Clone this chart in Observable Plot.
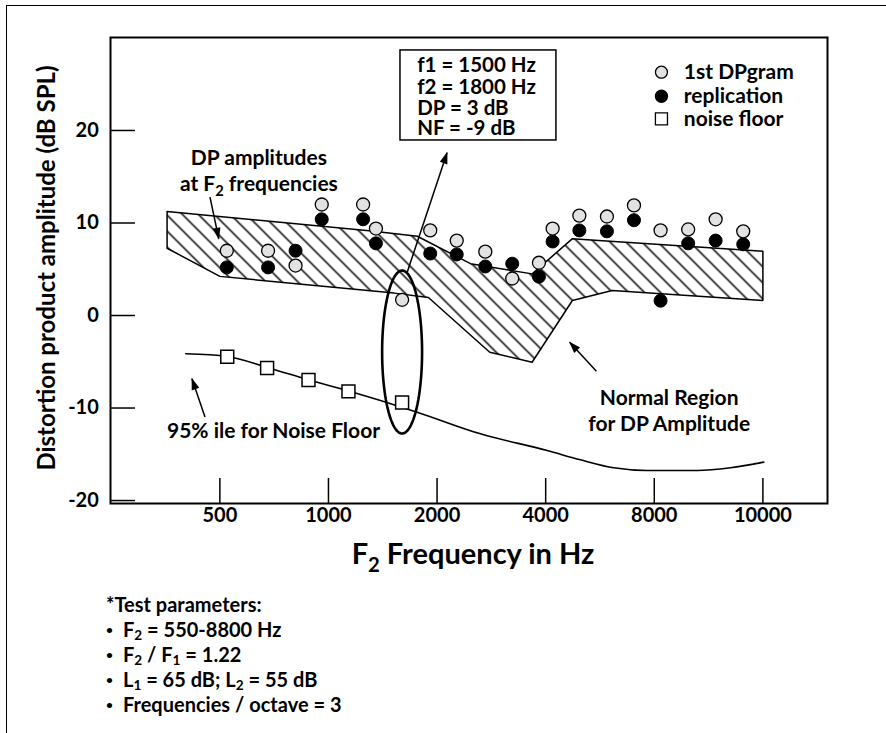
<!DOCTYPE html>
<html><head><meta charset="utf-8">
<script src="https://cdn.jsdelivr.net/npm/d3@7"></script>
<script src="https://cdn.jsdelivr.net/npm/@observablehq/plot@0.6"></script>
<style>
html,body{margin:0;padding:0;background:#fff;overflow:hidden;}
body{width:886px;height:733px;position:relative;font-family:Lato,"Open Sans",sans-serif;font-weight:700;color:#000;}
#border{position:absolute;left:6px;top:5px;width:1000px;height:1000px;border-left:1.5px solid #000;border-top:1.5px solid #000;z-index:2;pointer-events:none;}
#chart{position:absolute;left:0;top:0;z-index:1;}
#params{position:absolute;left:106px;top:592px;font-size:20px;line-height:25px;}
#params div{height:25px;overflow:visible;}
#params .b{display:inline-block;width:17px;font-size:12px;vertical-align:3px;}
#params sub{font-size:68%;vertical-align:-0.22em;line-height:0;}
</style></head><body>
<div id="chart"></div>
<div id="border"></div>
<div id="params"></div>
<script>
// ---- axis ticks ----
const xTickPos = [0, 1, 2, 3, 4, 5];
const xTickLabels = ["500", "1000", "2000", "4000", "8000", "10000"];
const yTicks = [-20, -10, 0, 10, 20];

// ---- DP data (x = position in octaves above 500 Hz on the chart's axis) ----
const octavePos   = [0.064, 0.444, 0.697, 0.938, 1.319, 1.437, 1.678, 1.937, 2.181, 2.444, 2.692, 2.938, 3.064, 3.310, 3.564, 3.813, 4.058, 4.312, 4.565, 4.819];
const firstDP     = [7.0, 7.0, 5.4, 12.0, 12.0, 9.4, 1.7, 9.2, 8.1, 6.9, 4.0, 5.7, 9.4, 10.8, 10.7, 11.9, 9.2, 9.3, 10.4, 9.1];
const replication = [5.2, 5.2, 7.0, 10.4, 10.4, 7.8, null, 6.7, 6.6, 5.3, 5.6, 4.2, 8.0, 9.2, 9.1, 10.3, 1.6, 7.8, 8.1, 7.7];

// ---- noise floor ----
const noisePos   = [0.068, 0.435, 0.816, 1.184, 1.678];
const noiseFloor = [-4.45, -5.67, -6.97, -8.2, -9.4];

// ---- 95th percentile noise floor curve ----
const nf95Pos = [-0.314, 0.068, 0.442, 0.813, 1.187, 1.479, 1.817, 2.4, 3.014, 3.32, 3.627, 3.935, 4.395, 4.702, 5.008];
const nf95    = [-4.14, -4.43, -5.64, -6.94, -8.16, -9.19, -10.45, -12.79, -14.59, -15.6, -16.46, -16.75, -16.75, -16.46, -15.85];

// ---- normal region outline ----
const normalPos = [-0.486, 1.374, 1.818, 2.308, 2.875, 3.244, 5.0, 5.0, 3.612, 3.246, 2.875, 2.485, 1.92, 1.606, 0, -0.486];
const normalDb  = [11.24, 9.15, 8.57, 5.6, 4.5, 8.29, 6.95, 1.62, 2.7, 1.62, -5.05, -3.97, 1.95, 2.42, 4.23, 7.27];

// ---- legend ----
const legendLabels = ["1st DPgram", "replication", "noise floor"];
const legendY = [26.3, 23.7, 21.25];

// ---- annotations ----
const boxLines = ["f1 = 1500 Hz", "f2 = 1800 Hz", "DP = 3 dB", "NF = -9 dB"];
const boxLineY = [27.03, 24.68, 22.38, 20.22];
const noteTexts = ["DP amplitudes", "at F₂ frequencies", "95% ile for Noise Floor", "Normal Region", "for DP Amplitude"];
const noteX = [0.359, 0.359, 0.494, 4.137, 4.137];
const noteY = [17.05, 14.24, -12.54, -8.97, -11.71];
const arrowFrom = [[-0.091, 12.8], [1.725, 4.68], [-0.137, -10.98], [3.467, -6.02]];
const arrowTo   = [[-0.010, 8.3], [2.092, 17.6], [-0.257, -6.83], [3.221, -2.88]];
const paramLines = ["*Test parameters:", "F<sub>2</sub> = 550-8800 Hz", "F<sub>2</sub> / F<sub>1</sub> = 1.22", "L<sub>1</sub> = 65 dB; L<sub>2</sub> = 55 dB", "Frequencies / octave = 3"];

// ---- build tables ----
const dps = octavePos.map((x, i) => ({x, first: firstDP[i], rep: replication[i]}));
const noise = noisePos.map((x, i) => ({x, y: noiseFloor[i]}));
const curve95 = nf95Pos.map((x, i) => ({x, y: nf95[i]}));
const region = normalPos.map((x, i) => ({x, y: normalDb[i]}));
const legend = legendLabels.map((label, i) => ({label, y: legendY[i], i}));
const notes = noteTexts.map((text, i) => ({text, x: noteX[i], y: noteY[i]}));
const arrows = arrowFrom.map((f, i) => ({x1: f[0], y1: f[1], x2: arrowTo[i][0], y2: arrowTo[i][1]}));
const ell = {cx: 1.678, cy: -3.95, rx: 0.184, ry: 8.81};
const ellipsePts = d3.range(0, 361, 4).map(a => ({x: ell.cx + ell.rx * Math.cos(a * Math.PI / 180), y: ell.cy + ell.ry * Math.sin(a * Math.PI / 180)}));

const W = 886, H = 590;
const mL = 110, mT = 37, mR = 59, mB = H - 503;
const plotW = W - mL - mR, plotH = H - mT - mB;
const legendDotX = 4.066, legendTextX = 4.272;
const boxX1 = 1.663, boxX2 = 3.099, boxY1 = 28.65, boxY2 = 18.92, boxTextX = 1.817;

const svg = Plot.plot({
  width: W, height: H,
  marginLeft: mL, marginTop: mT, marginRight: mR, marginBottom: mB,
  x: {domain: [-1.007, 5.595], axis: null},
  y: {domain: [-20.32, 30.05], axis: null},
  style: {fontFamily: "Lato, 'Open Sans', sans-serif", fontWeight: 700, background: "white", color: "black"},
  marks: [
    Plot.line(region, {x: "x", y: "y", curve: "linear-closed", fill: "url(#hatch)", stroke: "#000", strokeWidth: 1.5}),
    Plot.line(curve95, {x: "x", y: "y", curve: "monotone-x", stroke: "#000", strokeWidth: 1.6}),
    Plot.dot(noise, {x: "x", y: "y", symbol: "square", r: 7.3, fill: "white", stroke: "#000", strokeWidth: 1.5}),
    Plot.dot(dps.filter(d => d.rep != null), {x: "x", y: "rep", r: 6.5, fill: "#000", stroke: "#000", strokeWidth: 1}),
    Plot.dot(dps, {x: "x", y: "first", r: 6.5, fill: "#e2e2e2", stroke: "#000", strokeWidth: 1.3}),
    Plot.line(ellipsePts, {x: "x", y: "y", stroke: "#000", strokeWidth: 2.6}),
    Plot.link(arrows, {x1: "x1", y1: "y1", x2: "x2", y2: "y2", stroke: "#000", strokeWidth: 1.5, markerEnd: "arrow"}),
    Plot.text(notes, {x: "x", y: "y", text: "text", fontSize: 21, fill: "#000"}),
    // annotation box
    Plot.rect([{}], {x1: boxX1, x2: boxX2, y1: boxY1, y2: boxY2, fill: "white", stroke: "#000", strokeWidth: 1.5}),
    Plot.text(boxLines, {x: boxTextX, y: (d, i) => boxLineY[i], text: d => d, textAnchor: "start", fontSize: 20.5, fill: "#000"}),
    // legend
    Plot.dot(legend.filter(d => d.i < 2), {x: legendDotX, y: "y", r: 6, fill: d => d.i === 0 ? "#e2e2e2" : "#000", stroke: "#000", strokeWidth: 1.3}),
    Plot.dot(legend.filter(d => d.i === 2), {x: legendDotX, y: "y", symbol: "square", r: 6.8, fill: "white", stroke: "#000", strokeWidth: 1.3}),
    Plot.text(legend, {x: legendTextX, y: "y", text: "label", textAnchor: "start", fontSize: 21, fill: "#000"}),
    // ticks (inward)
    Plot.tickY(yTicks, {y: d => d, insetRight: plotW - 25, stroke: "#000", strokeWidth: 1.5}),
    Plot.tickX(xTickPos, {x: d => d, insetTop: plotH - 25, stroke: "#000", strokeWidth: 1.5}),
    Plot.text(yTicks, {y: d => d, text: d => String(d), frameAnchor: "left", textAnchor: "end", dx: -11.7, fontSize: 20, fill: "#000"}),
    Plot.text(xTickPos, {x: d => d, text: (d, i) => xTickLabels[i], frameAnchor: "bottom", dy: 18, fontSize: 20, fill: "#000"}),
    Plot.text(["F₂ Frequency in Hz"], {text: d => d, frameAnchor: "bottom", textAnchor: "middle", dx: 4, dy: 60, fontSize: 29, fill: "#000"}),
    Plot.text(["Distortion product amplitude (dB SPL)"], {text: d => d, frameAnchor: "left", textAnchor: "middle", rotate: -90, dx: -63, dy: -2.5, fontSize: 24, fill: "#000"}),
    Plot.frame({stroke: "#000", strokeWidth: 2})
  ]
});

// hatch pattern
const defs = document.createElementNS("http://www.w3.org/2000/svg", "defs");
defs.innerHTML = '<pattern id="hatch" patternUnits="userSpaceOnUse" width="16" height="16"><path d="M-4,-4L20,20M-12,4L4,20M4,-12L20,4" stroke="#000" stroke-width="1.5" fill="none"/></pattern>';
svg.insertBefore(defs, svg.firstChild);

// filled arrowheads
svg.querySelectorAll("marker").forEach(m => {
  m.setAttribute("viewBox", "-12 -5 14 10");
  m.setAttribute("markerWidth", 14 / 1.5);
  m.setAttribute("markerHeight", 10 / 1.5);
  m.setAttribute("fill", "#000");
  m.setAttribute("stroke", "none");
  const p = m.querySelector("path");
  if (p) p.setAttribute("d", "M-11,-4L1,0L-11,4Z");
});

document.getElementById("chart").appendChild(svg);

// subscripts in svg text
svg.querySelectorAll("text").forEach(t => {
  const s = t.textContent;
  if (!/[₁₂]/.test(s) || t.querySelector("tspan")) return;
  const fs = parseFloat(getComputedStyle(t).fontSize) || 20;
  const shift = fs * 0.28;
  t.textContent = "";
  const parts = s.split(/([₁₂])/);
  let lowered = false;
  parts.forEach(part => {
    if (!part) return;
    const ts = document.createElementNS("http://www.w3.org/2000/svg", "tspan");
    if (part === "₁" || part === "₂") {
      ts.textContent = part === "₁" ? "1" : "2";
      ts.setAttribute("font-size", (fs * 0.7).toFixed(1));
      ts.setAttribute("dy", shift.toFixed(1));
      lowered = true;
    } else {
      ts.textContent = part;
      if (lowered) { ts.setAttribute("dy", (-shift).toFixed(1)); lowered = false; }
    }
    t.appendChild(ts);
  });
});

// test parameters text
const params = document.getElementById("params");
paramLines.forEach((line, i) => {
  const div = document.createElement("div");
  div.innerHTML = (i === 0 ? "" : '<span class="b">•</span>') + line;
  params.appendChild(div);
});
</script></body></html>
